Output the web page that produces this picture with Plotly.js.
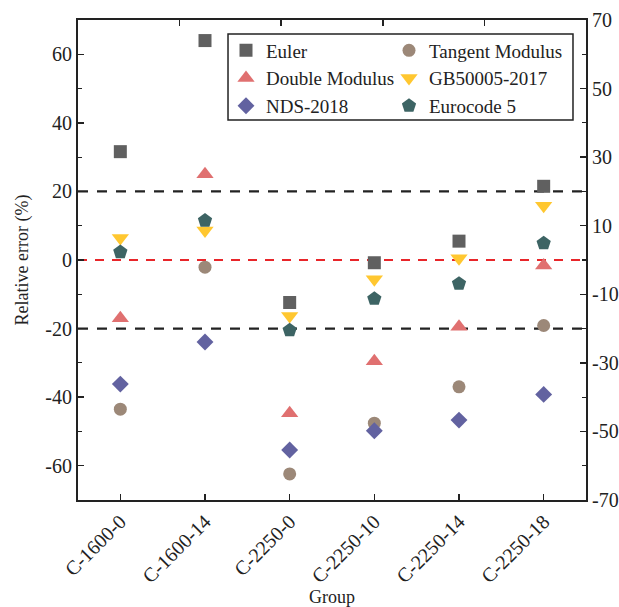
<!DOCTYPE html>
<html>
<head>
<meta charset="utf-8">
<script src="https://cdn.plot.ly/plotly-3.0.1.min.js"></script>
<style>
html,body{margin:0;padding:0;background:#fff;}
#chart{width:619px;height:607px;}
</style>
</head>
<body>
<div id="chart"></div>
<script>
const groups = ['C-1600-0', 'C-1600-14', 'C-2250-0', 'C-2250-10', 'C-2250-14', 'C-2250-18'];
const euler = [31.6, 64.0, -12.4, -0.8, 5.5, 21.5];
const tangentModulus = [-43.5, -2.1, -62.4, -47.6, -37.0, -19.1];
const doubleModulus = [-17.0, 25.0, -44.7, -29.5, -19.5, -1.6];
const gb50005 = [6.4, 8.6, -16.3, -5.6, 0.5, 15.8];
const nds2018 = [-36.2, -23.9, -55.4, -49.8, -46.7, -39.2];
const eurocode5 = [2.3, 11.5, -20.5, -11.3, -6.9, 4.9];

const leftTickVals = [-60, -40, -20, 0, 20, 40, 60];
const leftTickText = ['-60', '-40', '-20', '0', '20', '40', '60'];
const rightTickVals = [-70, -50, -30, -10, 10, 30, 50, 70];
const rightTickText = ['-70', '-50', '-30', '-10', '10', '30', '50', '70'];
const limitLines = [20, -20];
const zeroLine = [0];

const FONT = 'Times New Roman';
const INK = '#222222';

function series(name, y, symbol, size, color, legend) {
  return {
    type: 'scatter', mode: 'markers', name: name, x: groups, y: y,
    legend: legend,
    marker: {symbol: symbol, size: size, color: color, line: {width: 0}},
    hoverinfo: 'x+y+name'
  };
}

const traces = [
  series('Euler', euler, 'square', 13, '#606060', 'legend'),
  series('Tangent Modulus', tangentModulus, 'circle', 13, '#9C8878', 'legend2'),
  series('Double Modulus', doubleModulus, 'triangle-up', 15, '#E07070', 'legend'),
  series('GB50005-2017', gb50005, 'triangle-down', 15, '#FFC730', 'legend2'),
  series('NDS-2018', nds2018, 'diamond', 13, '#6262A0', 'legend'),
  series('Eurocode 5', eurocode5, 'pentagon', 15, '#3D6464', 'legend2'),
  {type: 'scatter', mode: 'markers', x: [], y: [], xaxis: 'x2', yaxis: 'y2', showlegend: false, hoverinfo: 'skip'}
];

const shapes = [];
limitLines.forEach(v => shapes.push({type: 'line', xref: 'paper', x0: 0, x1: 1, yref: 'y', y0: v, y1: v,
  layer: 'below', line: {color: INK, width: 2.2, dash: '10px,9px'}}));
zeroLine.forEach(v => shapes.push({type: 'line', xref: 'paper', x0: 0, x1: 1, yref: 'y', y0: v, y1: v,
  layer: 'below', line: {color: '#E8262A', width: 2, dash: '9px,8px'}}));
shapes.push({type: 'rect', xref: 'paper', yref: 'paper', x0: 0.2953, x1: 0.9744, y0: 0.7917, y1: 0.9708,
  line: {color: INK, width: 1.5}, fillcolor: 'rgba(0,0,0,0)'});

const tickFont = {family: FONT, size: 20, color: INK};
const legendCommon = {
  orientation: 'v', bgcolor: 'rgba(0,0,0,0)', borderwidth: 0,
  font: {family: FONT, size: 19, color: INK},
  xanchor: 'left', yanchor: 'top', y: 0.976, itemwidth: 30
};

const layout = {
  width: 619, height: 607,
  margin: {l: 78, r: 33, t: 20, b: 107, pad: 0},
  paper_bgcolor: '#ffffff', plot_bgcolor: '#ffffff',
  font: {family: FONT, color: INK},
  showlegend: true,
  legend: Object.assign({}, legendCommon, {x: (226 - 78) / 508}),
  legend2: Object.assign({}, legendCommon, {x: (389 - 78) / 508}),
  xaxis: {
    type: 'category', range: [-0.5, 5.5], showgrid: false, zeroline: false,
    showline: true, linecolor: INK, linewidth: 2,
    ticks: 'inside', ticklen: 6, tickwidth: 1.5, tickcolor: INK,
    tickangle: -45, tickfont: tickFont,
    title: {text: 'Group', font: {family: FONT, size: 18, color: INK}, standoff: 22}
  },
  xaxis2: {
    overlaying: 'x', side: 'top', anchor: 'y', range: [0, 5],
    showgrid: false, zeroline: false, showline: true, linecolor: INK, linewidth: 2,
    ticks: 'inside', ticklen: 6, tickwidth: 1.5, tickcolor: INK,
    tickmode: 'array', tickvals: [1, 2, 3, 4], showticklabels: false
  },
  yaxis: {
    range: [-70, 70], showgrid: false, zeroline: false,
    showline: true, linecolor: INK, linewidth: 2,
    ticks: 'inside', ticklen: 6, tickwidth: 1.5, tickcolor: INK,
    tickmode: 'array', tickvals: leftTickVals, ticktext: leftTickText, tickfont: tickFont,
    minor: {tickmode: 'linear', tick0: 0, dtick: 10, ticks: 'inside', ticklen: 4, tickwidth: 1.2, tickcolor: INK},
    title: {text: 'Relative error (%)', font: {family: FONT, size: 18, color: INK}, standoff: 12}
  },
  yaxis2: {
    overlaying: 'y', side: 'right', anchor: 'x', range: [-70, 70],
    showgrid: false, zeroline: false, showline: true, linecolor: INK, linewidth: 2,
    ticks: 'inside', ticklen: 6, tickwidth: 1.5, tickcolor: INK,
    tickmode: 'array', tickvals: rightTickVals, ticktext: rightTickText, tickfont: tickFont,
    minor: {tickmode: 'linear', tick0: 0, dtick: 10, ticks: 'inside', ticklen: 4, tickwidth: 1.2, tickcolor: INK}
  },
  shapes: shapes
};

Plotly.newPlot('chart', traces, layout, {displayModeBar: false, staticPlot: true}).then(function () {
  document.querySelectorAll('#chart text').forEach(function (t) {
    t.style.setProperty('font-family', '"Liberation Serif", "Times New Roman", serif', 'important');
  });
});
</script>
</body>
</html>
